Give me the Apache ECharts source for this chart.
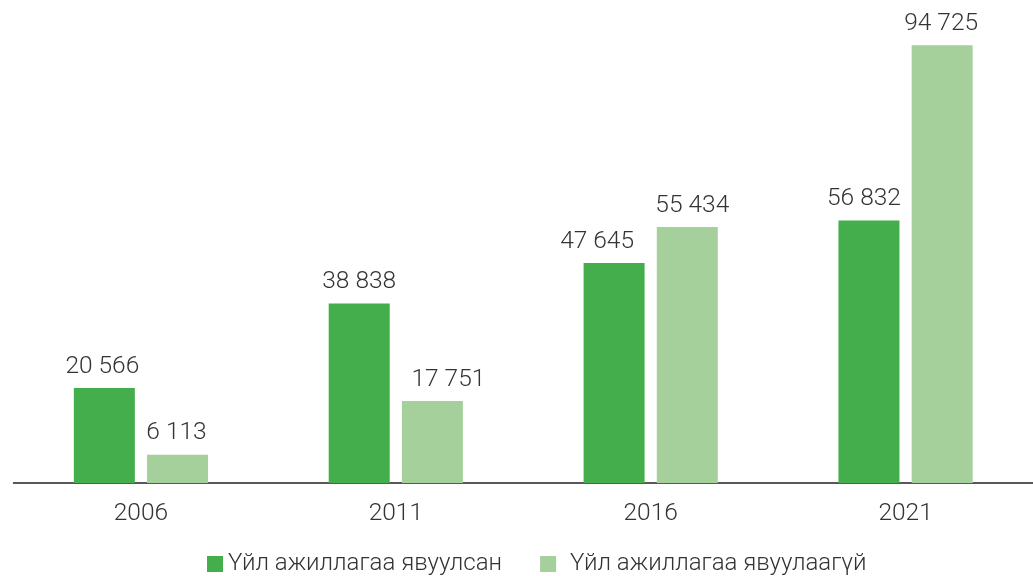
<!DOCTYPE html>
<html><head><meta charset="utf-8">
<script src="https://cdn.jsdelivr.net/npm/echarts@6/dist/echarts.min.js"></script>
<style>html,body{margin:0;padding:0;background:#fff}#c{width:1033px;height:576px}</style>
</head><body><div id="c"></div>
<script>
const categories = ['2006', '2011', '2016', '2021'];
const seriesNames = ['Үйл ажиллагаа явуулсан', 'Үйл ажиллагаа явуулаагүй'];
const operating = [20566, 38838, 47645, 56832];
const notOperating = [6113, 17751, 55434, 94725];

// label horizontal nudges (style only, as in the reference layout)
const labelNudgeA = [-2, 0, -17, -5];
const labelNudgeB = [-1, 16, 5, -1];

const fmt = v => String(v).replace(/\B(?=(\d{3})+(?!\d))/g, ' ');
const font = 'Roboto';
const chart = echarts.init(document.getElementById('c'));
const labelCfg = {
  show: true, position: 'top', distance: 9,
  color: '#333', fontSize: 24.5, fontFamily: font, fontWeight: 300,
  formatter: p => fmt(p.value)
};
const build = (vals, nudge) => vals.map((v, i) => ({ value: v, label: { offset: [nudge[i], 0] } }));
const legendText = { color: '#333', fontSize: 24, fontFamily: font, fontWeight: 300 };
chart.setOption({
  animation: false,
  grid: { left: 13.5, right: -2.5, top: 21, bottom: 93, containLabel: false },
  legend: {
    bottom: -5, left: 202, itemWidth: 16, itemHeight: 16, itemGap: 38,
    icon: 'rect',
    textStyle: legendText,
    data: [
      { name: seriesNames[0], textStyle: Object.assign({}, legendText, { padding: [0, 0, 0, 0] }) },
      { name: seriesNames[1], textStyle: Object.assign({}, legendText, { padding: [0, 0, 0, 9] }) }
    ]
  },
  xAxis: {
    type: 'category', data: categories,
    axisLine: { lineStyle: { color: '#222', width: 1.5 } },
    axisTick: { show: false },
    axisLabel: { color: '#333', fontSize: 24.5, fontFamily: font, fontWeight: 300, margin: 18 }
  },
  yAxis: { type: 'value', min: 0, max: 100000, show: false, splitLine: { show: false } },
  series: [
    { name: seriesNames[0], type: 'bar', data: build(operating, labelNudgeA), barWidth: 61, barGap: '20%',
      itemStyle: { color: '#43ae4b' }, label: labelCfg },
    { name: seriesNames[1], type: 'bar', data: build(notOperating, labelNudgeB), barWidth: 61,
      itemStyle: { color: '#a5cf9b' }, label: labelCfg }
  ]
});
</script></body></html>
